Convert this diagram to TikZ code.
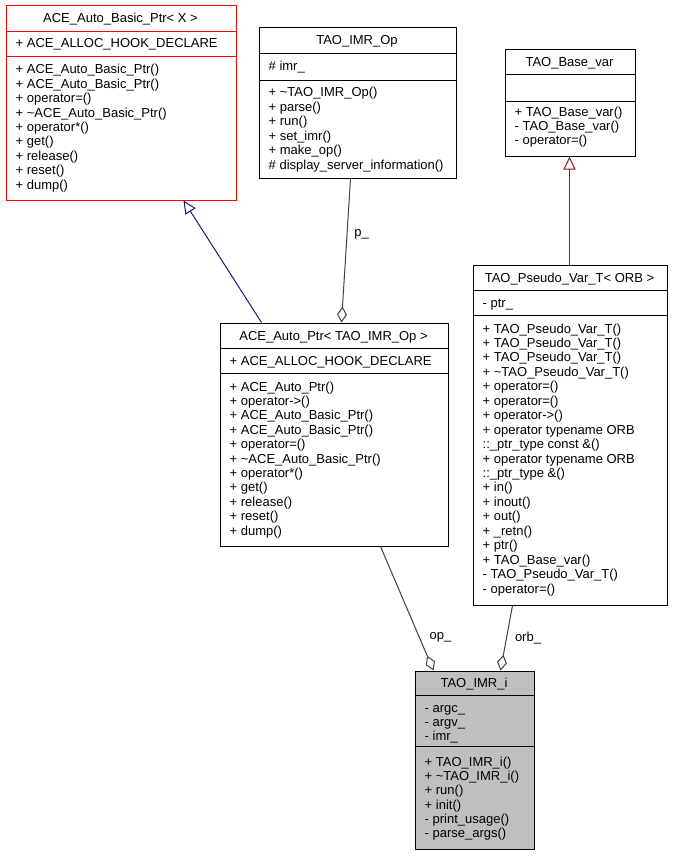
\documentclass[tikz,border=0pt]{standalone}
\usepackage{fontspec}
\setmainfont{Liberation Sans}
\usetikzlibrary{arrows.meta}
\definecolor{edgegray}{HTML}{404040}
\definecolor{inhblue}{HTML}{191970}
\definecolor{inhred}{HTML}{8B1A1A}
\definecolor{fillgray}{HTML}{BFBFBF}
\definecolor{boxred}{HTML}{FF0000}
\newcommand\memlist[5]{%
  \foreach \mtext [count=\i from 0] in {#5} {\node[mem] (#1-\i) at (#2,#3+\i*#4) {\mtext};}}
\begin{document}
\begin{tikzpicture}[x=1pt,y=-1pt,
  cls/.style={draw, line width=1pt, inner sep=0pt, anchor=north west},
  sepline/.style={line width=1pt},
  mem/.style={anchor=base west, inner sep=0pt, font=\fontsize{13}{15}\selectfont},
  ttl/.style={anchor=base, inner sep=0pt, font=\fontsize{13}{15}\selectfont},
  lbl/.style={inner sep=0pt, font=\fontsize{13}{15}\selectfont},
  agg/.style={draw=edgegray, line width=1pt, {Diamond[open, length=16pt, width=10pt, line width=1pt]}-},
  inh/.style={line width=1pt, {Triangle[open, length=13pt, width=12pt, line width=1pt]}-}]
\useasboundingbox (0,0) rectangle (672,856);
\begin{scope}[shift={(0.5,0.5)}]
% ---- ACE_Auto_Basic_Ptr< X >
\node[cls, draw=boxred, minimum width=230pt, minimum height=194pt] (b1) at (5,5) {};
\draw[sepline, boxred] (b1.west |- 0,31) -- (b1.east |- 0,31);
\draw[sepline, boxred] (b1.west |- 0,56) -- (b1.east |- 0,56);
\node[ttl] (b1t) at (120,22.5) {ACE\_Auto\_Basic\_Ptr< X >};
\memlist{b1a}{15}{47.5}{14.4}{{+ ACE\_ALLOC\_HOOK\_DECLARE}}
\memlist{b1m}{15}{73.5}{14.4}{{+ ACE\_Auto\_Basic\_Ptr()},{+ ACE\_Auto\_Basic\_Ptr()},{+ operator=()},{+ \textasciitilde ACE\_Auto\_Basic\_Ptr()},{+ operator*()},{+ get()},{+ release()},{+ reset()},{+ dump()}}

% ---- TAO_IMR_Op
\node[cls, minimum width=197pt, minimum height=150pt] (b2) at (258,27) {};
\draw[sepline] (b2.west |- 0,53) -- (b2.east |- 0,53);
\draw[sepline] (b2.west |- 0,80) -- (b2.east |- 0,80);
\node[ttl] (b2t) at (356.5,44.5) {TAO\_IMR\_Op};
\memlist{b2a}{268}{70}{14.4}{{\# imr\_}}
\memlist{b2m}{268}{96.5}{14.4}{{+ \textasciitilde TAO\_IMR\_Op()},{+ parse()},{+ run()},{+ set\_imr()},{+ make\_op()},{\# display\_server\_information()}}

% ---- TAO_Base_var
\node[cls, minimum width=130pt, minimum height=106pt] (b3) at (504,49) {};
\draw[sepline] (b3.west |- 0,74) -- (b3.east |- 0,74);
\draw[sepline] (b3.west |- 0,101) -- (b3.east |- 0,101);
\node[ttl] (b3t) at (569,66) {TAO\_Base\_var};
\memlist{b3m}{514}{116}{14.2}{{+ TAO\_Base\_var()},{- TAO\_Base\_var()},{- operator=()}}

% ---- ACE_Auto_Ptr< TAO_IMR_Op >
\node[cls, minimum width=228pt, minimum height=223pt] (b4) at (219,322) {};
\draw[sepline] (b4.west |- 0,348) -- (b4.east |- 0,348);
\draw[sepline] (b4.west |- 0,373) -- (b4.east |- 0,373);
\node[ttl] (b4t) at (333,339.5) {ACE\_Auto\_Ptr< TAO\_IMR\_Op >};
\memlist{b4a}{229}{364.5}{14.4}{{+ ACE\_ALLOC\_HOOK\_DECLARE}}
\memlist{b4m}{229}{390.5}{14.4}{{+ ACE\_Auto\_Ptr()},{+ operator->()},{+ ACE\_Auto\_Basic\_Ptr()},{+ ACE\_Auto\_Basic\_Ptr()},{+ operator=()},{+ \textasciitilde ACE\_Auto\_Basic\_Ptr()},{+ operator*()},{+ get()},{+ release()},{+ reset()},{+ dump()}}

% ---- TAO_Pseudo_Var_T< ORB >
\node[cls, minimum width=194pt, minimum height=340pt] (b5) at (472,264) {};
\draw[sepline] (b5.west |- 0,290) -- (b5.east |- 0,290);
\draw[sepline] (b5.west |- 0,315) -- (b5.east |- 0,315);
\node[ttl] (b5t) at (569,281.5) {TAO\_Pseudo\_Var\_T< ORB >};
\memlist{b5a}{482}{306.5}{14.4}{{- ptr\_}}
\memlist{b5m}{482}{332.5}{14.45}{{+ TAO\_Pseudo\_Var\_T()},{+ TAO\_Pseudo\_Var\_T()},{+ TAO\_Pseudo\_Var\_T()},{+ \textasciitilde TAO\_Pseudo\_Var\_T()},{+ operator=()},{+ operator=()},{+ operator->()},{+ operator typename ORB},{::\_ptr\_type const \&()},{+ operator typename ORB},{::\_ptr\_type \&()},{+ in()},{+ inout()},{+ out()},{+ \_retn()},{+ ptr()},{+ TAO\_Base\_var()},{- TAO\_Pseudo\_Var\_T()},{- operator=()}}

% ---- TAO_IMR_i
\node[cls, fill=fillgray, minimum width=119pt, minimum height=178pt] (b6) at (414,670) {};
\draw[sepline] (b6.west |- 0,695) -- (b6.east |- 0,695);
\draw[sepline] (b6.west |- 0,746) -- (b6.east |- 0,746);
\node[ttl] (b6t) at (473.5,687) {TAO\_IMR\_i};
\memlist{b6a}{424}{712}{14.2}{{- argc\_},{- argv\_},{- imr\_}}
\memlist{b6m}{424}{766}{14.2}{{+ TAO\_IMR\_i()},{+ \textasciitilde TAO\_IMR\_i()},{+ run()},{+ init()},{- print\_usage()},{- parse\_args()}}

% ---- connectors
\draw[inh, draw=inhblue] (b1.south -| 183,0) -- (b4.north -| 261,0);
\draw[agg] (b4.north -| 341,0) -- (b2.south -| 350,0) node[lbl, pos=0.61, right=7pt] (lp) {p\_};
\draw[inh, draw=inhred] (b3.south -| 569,0) -- (b5.north -| 569,0);
\draw[agg] (b6.north -| 433,0) -- (b4.south -| 380,0) node[lbl, pos=0.27, right=10pt] (lop) {op\_};
\draw[agg] (b6.north -| 500,0) -- (b5.south -| 512,0) node[lbl, pos=0.5, right=8pt] (lorb) {orb\_};
\end{scope}
\end{tikzpicture}
\end{document}
